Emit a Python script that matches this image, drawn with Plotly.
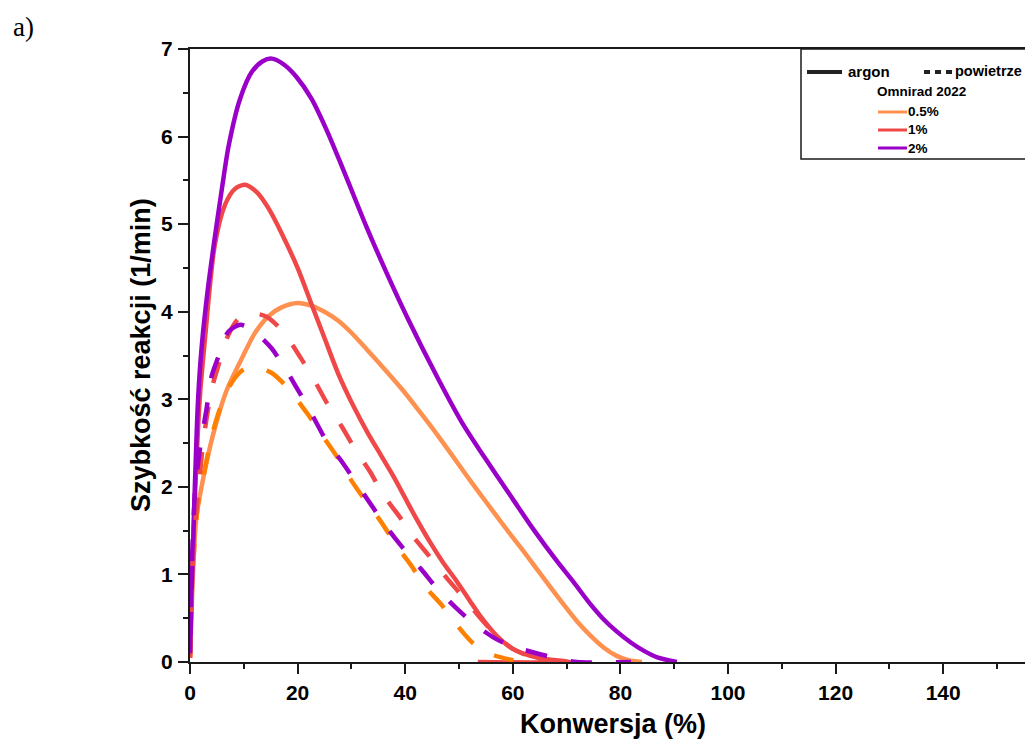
"""
Reaction rate vs conversion for Omnirad 2022 (argon vs air).
"""

import plotly.graph_objects as go

# Argon (solid lines)
conv_ar_05 = [0, 0.3, 0.7, 1.2, 2.4, 4.3, 6.8, 9.9, 12, 14.6, 17, 20, 22.5, 25, 27.5, 30, 33,
              36.5, 39.6, 42.8, 45.9, 48.5, 51.4, 55, 58.9, 62.3, 65.7, 69.4, 72, 74.3, 77, 79.3,
              81.5, 84]
rate_ar_05 = [0.05, 0.6, 1.2, 1.66, 2.08, 2.6, 3.1, 3.5, 3.75, 3.95, 4.05, 4.1, 4.07, 4.0, 3.9,
              3.76, 3.56, 3.32, 3.1, 2.85, 2.6, 2.38, 2.13, 1.83, 1.51, 1.24, 0.96, 0.66, 0.46, 0.31,
              0.16, 0.07, 0.02, 0]

conv_ar_1 = [0, 0.4, 1.0, 1.8, 2.8, 4.6, 6.5, 8.3, 10.2, 12.5, 14.6, 17, 20, 22.5, 25, 27.5, 30.4,
             33, 35.5, 38, 41.5, 44.5, 47, 49.6, 52, 54, 57, 60, 64.5, 70.6, 53.5]
rate_ar_1 = [0.05, 1.0, 2.0, 3.0, 3.7, 4.76, 5.22, 5.4, 5.45, 5.36, 5.18, 4.9, 4.5, 4.1, 3.7, 3.3,
             2.92, 2.62, 2.36, 2.1, 1.7, 1.38, 1.14, 0.92, 0.7, 0.52, 0.3, 0.15, 0.05, 0, 0]

conv_ar_2 = [0, 0.4, 0.9, 1.5, 2.2, 3.3, 4.5, 5.8, 7.2, 9.3, 11.5, 13.5, 15.2, 17.5, 19.8, 22.6, 25.5,
             28.5, 32.8, 36.5, 40.5, 45.9, 50.5, 55.8, 60, 64, 68.1, 71.2, 74.3, 77, 79.3, 82, 84.3,
             87, 90.5]
rate_ar_2 = [0.1, 1.0, 2.0, 3.0, 3.62, 4.25, 4.8, 5.35, 5.9, 6.43, 6.74, 6.86, 6.89, 6.82, 6.68, 6.43,
             6.06, 5.62, 4.97, 4.45, 3.92, 3.26, 2.74, 2.24, 1.86, 1.5, 1.16, 0.92, 0.67, 0.48, 0.35,
             0.22, 0.13, 0.05, 0]

# Air (dashed lines)
conv_air_05 = [0, 0.4, 1.0, 1.6, 2.5, 4.0, 5.5, 7.1, 8.7, 10.2, 12.5, 15.2, 18.3, 22, 24.8, 27.9, 29.7,
               32.5, 35.3, 38.7, 40.9, 44, 46.8, 49.9, 52.7, 56.4, 60.1]
rate_air_05 = [0.05, 0.9, 1.5, 1.85, 2.12, 2.57, 2.88, 3.12, 3.27, 3.35, 3.36, 3.3, 3.12, 2.82, 2.57,
               2.29, 2.1, 1.85, 1.62, 1.3, 1.12, 0.84, 0.65, 0.4, 0.21, 0.08, 0.02]

conv_air_1 = [0, 0.4, 1.0, 1.5, 2.5, 3.4, 4.3, 5.3, 7.1, 9.0, 11.5, 14.3, 17.3, 20.6, 22.9, 25.7, 28.2,
              31, 33.5, 35.9, 38.7, 41.8, 44.6, 47.7, 50.5, 54, 57, 60, 64, 70]
rate_air_1 = [0.05, 1.0, 1.6, 1.93, 2.53, 2.9, 3.18, 3.39, 3.73, 3.92, 3.98, 3.94, 3.77, 3.47, 3.24,
              2.93, 2.69, 2.4, 2.17, 1.91, 1.68, 1.41, 1.2, 0.96, 0.76, 0.5, 0.3, 0.15, 0.05, 0]

conv_air_2 = [0, 0.4, 1.0, 2.0, 3.1, 4.0, 5.3, 7.1, 9.3, 11.2, 13, 15.2, 17.7, 20.6, 22.9, 25.5, 28.2,
              32.5, 36.9, 39.6, 43.1, 45.9, 49.6, 52.7, 56.7, 59.5, 63.2, 66.9, 71.9, 82]
rate_air_2 = [0.1, 1.2, 2.0, 2.5, 2.9, 3.26, 3.49, 3.77, 3.85, 3.81, 3.72, 3.58, 3.35, 3.05, 2.8, 2.51,
              2.29, 1.9, 1.51, 1.3, 1.05, 0.84, 0.61, 0.44, 0.27, 0.19, 0.12, 0.06, 0, 0]

x_ticks = [0, 20, 40, 60, 80, 100, 120, 140]
y_ticks = [0, 1, 2, 3, 4, 5, 6, 7]

ORANGE = "#FF9150"
ORANGE_AIR = "#FF8000"
RED = "#F04848"
PURPLE = "#9A00C8"
FONT = "Liberation Sans, Arial, sans-serif"

# plot area in window pixels (the page body adds an 8px margin all round)
OFF = 8
L, T, R, B = 190, 49, 1033 - OFF, 662
W, H = R - L, B - T
FIG_W, FIG_H = 1033 - 2 * OFF, 749 - 2 * OFF
X_MAX = W / 5.38  # keep the reference's 5.38 px per % conversion


def px(x):
    return (x - L) / W


def py(y):
    return (B - y) / H


fig = go.Figure()

series = [
    (conv_ar_05, rate_ar_05, ORANGE, "solid"),
    (conv_ar_1, rate_ar_1, RED, "solid"),
    (conv_ar_2, rate_ar_2, PURPLE, "solid"),
    (conv_air_05, rate_air_05, ORANGE_AIR, "22px,24px"),
    (conv_air_1, rate_air_1, RED, "22px,24px"),
    (conv_air_2, rate_air_2, PURPLE, "22px,24px"),
]
for xs, ys, color, dash in series:
    fig.add_trace(go.Scatter(
        x=xs, y=ys, mode="lines",
        line=dict(color=color, width=4.5, dash=dash, shape="spline", smoothing=0.8),
        showlegend=False,
    ))

axis_font = dict(family=FONT, size=21, color="black", weight="bold")
fig.update_layout(
    width=FIG_W, height=FIG_H, autosize=False,
    margin=dict(l=L - OFF, r=0, t=T - OFF, b=FIG_H - (B - OFF)),
    plot_bgcolor="white", paper_bgcolor="white",
    xaxis=dict(
        range=[0, X_MAX], tickvals=x_ticks, showgrid=False, zeroline=False,
        showline=True, linewidth=2, linecolor="#1a1a1a", mirror=True,
        ticks="outside", ticklen=10, tickwidth=2, tickcolor="#1a1a1a",
        minor=dict(dtick=10, ticks="outside", ticklen=5, tickwidth=2, tickcolor="#1a1a1a"),
        tickfont=axis_font, ticklabelstandoff=1,
    ),
    yaxis=dict(
        range=[0, 7], tickvals=y_ticks, showgrid=False, zeroline=False,
        showline=True, linewidth=2, linecolor="#1a1a1a",
        ticks="outside", ticklen=10, tickwidth=2, tickcolor="#1a1a1a",
        minor=dict(dtick=0.5, ticks="outside", ticklen=5, tickwidth=2, tickcolor="#1a1a1a"),
        tickfont=axis_font, ticklabelstandoff=1,
    ),
)

title_font = dict(family=FONT, size=27, color="black", weight="bold")
fig.add_annotation(x=px(613), y=py(724), xref="paper", yref="paper", text="Konwersja (%)",
                   showarrow=False, font=title_font, xanchor="center", yanchor="middle")
fig.add_annotation(x=px(141), y=py(355), xref="paper", yref="paper",
                   text="Szybkość reakcji (1/min)", textangle=-90,
                   showarrow=False, font=title_font, xanchor="center", yanchor="middle")
fig.add_annotation(x=px(11), y=py(27), xref="paper", yref="paper", text="a)",
                   showarrow=False, xanchor="left", yanchor="middle",
                   font=dict(family="Liberation Serif, Times New Roman, serif", size=27, color="black"))

# hand-drawn legend box
fig.add_shape(type="rect", xref="paper", yref="paper",
              x0=px(801), x1=px(1040), y0=py(159), y1=py(49),
              line=dict(color="#1a1a1a", width=1.5), fillcolor="white", layer="above")

leg_font = dict(family=FONT, size=15, color="black", weight="bold")
small_font = dict(family=FONT, size=13.5, color="black", weight="bold")

fig.add_shape(type="line", xref="paper", yref="paper", x0=px(807), x1=px(842), y0=py(72), y1=py(72),
              line=dict(color="#222", width=4))
fig.add_annotation(x=px(846), y=py(71), xref="paper", yref="paper", text="argon",
                   showarrow=False, xanchor="left", yanchor="middle", font=leg_font)
fig.add_shape(type="line", xref="paper", yref="paper", x0=px(924), x1=px(952), y0=py(72), y1=py(72),
              line=dict(color="#222", width=4, dash="6px,5px"))
fig.add_annotation(x=px(953), y=py(71), xref="paper", yref="paper", text="powietrze",
                   showarrow=False, xanchor="left", yanchor="middle",
                   font=dict(family=FONT, size=14.5, color="black", weight="bold"))
fig.add_annotation(x=px(875), y=py(92), xref="paper", yref="paper", text="Omnirad 2022",
                   showarrow=False, xanchor="left", yanchor="middle", font=small_font)

for label, color, ypix in [("0.5%", ORANGE, 112), ("1%", RED, 130), ("2%", PURPLE, 148)]:
    fig.add_shape(type="line", xref="paper", yref="paper", x0=px(878), x1=px(907),
                  y0=py(ypix), y1=py(ypix), line=dict(color=color, width=3))
    fig.add_annotation(x=px(906), y=py(ypix), xref="paper", yref="paper", text=label,
                       showarrow=False, xanchor="left", yanchor="middle", font=small_font)

fig.write_html("out.html")
